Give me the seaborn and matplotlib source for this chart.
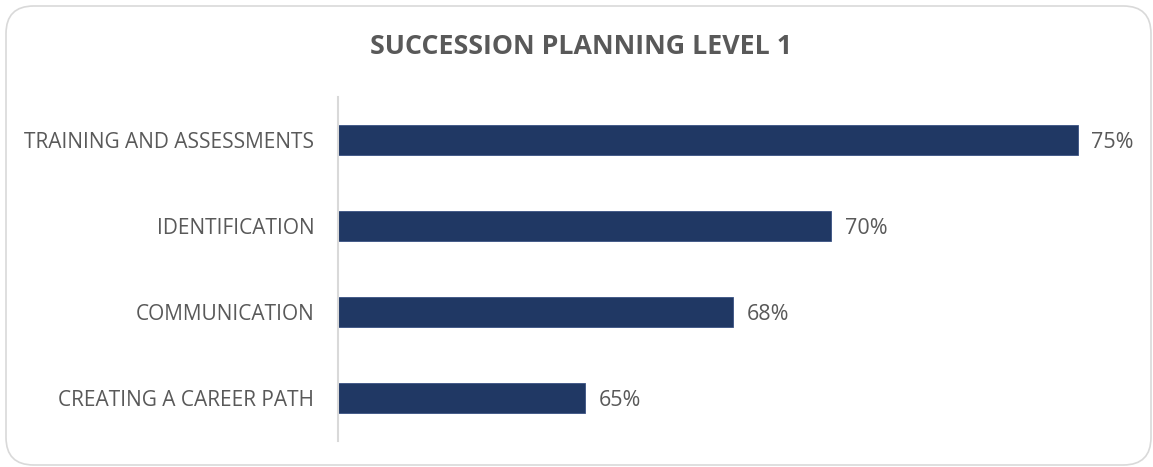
import matplotlib.pyplot as plt
import seaborn as sns
import pandas as pd
from matplotlib.patches import FancyBboxPatch

# chart data
categories = ['TRAINING AND ASSESSMENTS', 'IDENTIFICATION', 'COMMUNICATION', 'CREATING A CAREER PATH']
values = [0.75, 0.70, 0.68, 0.65]
value_labels = ['75%', '70%', '68%', '65%']

df = pd.DataFrame({'category': categories, 'value': values})

sns.set_style('white')
plt.rcParams['font.family'] = ['Open Sans', 'DejaVu Sans']

fig = plt.figure(figsize=(11.53, 4.67), dpi=100)
W, H = 1153, 467

# rounded frame around the chart
frame = FancyBboxPatch((6 / W, 2 / H), (1151 - 6) / W, 459 / H,
                       boxstyle='round,pad=0,rounding_size=0.024',
                       transform=fig.transFigure, facecolor='none',
                       edgecolor='#d9d9d9', linewidth=1.2, mutation_aspect=W / H,
                       zorder=-1)
fig.patches.append(frame)

ax = fig.add_axes([338 / W, 1 - 441 / H, (1127 - 338) / W, (441 - 97) / H])
ax.set_facecolor('none')
ax.set_zorder(2)

sns.barplot(data=df, x='value', y='category', orient='h', color='#203864',
            width=0.35, edgecolor='#3a5283', linewidth=0.6, ax=ax, saturation=1)

ax.set_xlim(0.60, 0.76)
ax.set_ylim(3.5, -0.5)
ax.set_xlabel('')
ax.set_ylabel('')
ax.set_xticks([])
for s in ['top', 'right', 'bottom']:
    ax.spines[s].set_visible(False)
ax.spines['left'].set_color('#d9d9d9')
ax.spines['left'].set_linewidth(1.5)
ax.tick_params(axis='y', length=0, pad=17, labelsize=15, labelcolor='#595959')

for i, (v, lab) in enumerate(zip(values, value_labels)):
    ax.text(v + 0.0028, i + 0.03, lab, va='center', ha='left', fontsize=15.5, color='#595959')

fig.text(581 / W, 1 - 47 / H, 'SUCCESSION PLANNING LEVEL 1', ha='center', va='center',
         fontsize=19.3, fontweight='bold', color='#595959')

fig.savefig('out.png', dpi=100)
